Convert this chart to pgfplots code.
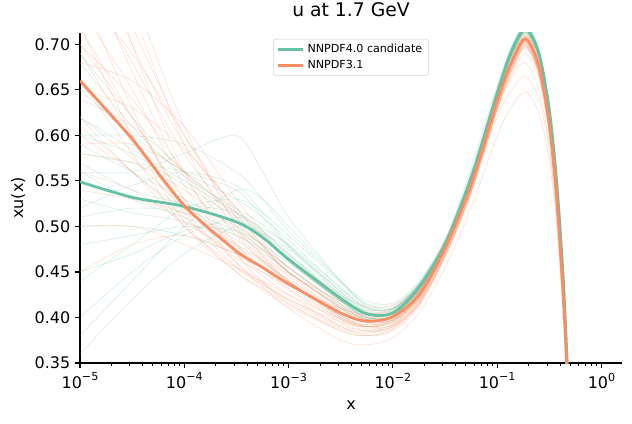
\documentclass[border=0pt]{standalone}
\usepackage{fontspec}
\setmainfont{DejaVu Sans}
\usepackage{pgfplots}
\usepackage{pgfplotstable}
\pgfplotsset{compat=1.18}
\definecolor{cnew}{RGB}{102,194,165}
\definecolor{cold}{RGB}{252,141,98}

% NNPDF3.1: central (c) and replicas
\pgfplotstableread{
x c r1 r2 r3 r4 r5 r6 r7 r8 r9 r10 r11 r12 r13 r14 r15 r16 r17 r18 r19 r20 r21 r22 r23 r24 r25 r26 r27 r28
1e-5     0.660 0.780 0.700 0.620 0.560 0.850 0.690 0.640 0.500 0.740 0.600 0.720 0.580 0.950 0.660 0.700 0.820 0.540 0.760 0.900 0.650 0.610 0.800 0.680 0.450 0.720 0.880 0.590 0.760
3.162e-5 0.596 0.680 0.640 0.575 0.540 0.720 0.600 0.610 0.500 0.650 0.560 0.620 0.570 0.760 0.580 0.620 0.700 0.530 0.630 0.740 0.630 0.560 0.670 0.660 0.480 0.600 0.700 0.590 0.690
1e-4     0.523 0.580 0.560 0.520 0.505 0.600 0.515 0.560 0.480 0.545 0.510 0.530 0.540 0.610 0.500 0.530 0.590 0.515 0.520 0.590 0.585 0.500 0.555 0.610 0.490 0.505 0.560 0.560 0.600
3.162e-4 0.473 0.505 0.490 0.478 0.470 0.510 0.455 0.500 0.455 0.470 0.465 0.480 0.495 0.500 0.450 0.460 0.520 0.485 0.460 0.495 0.520 0.455 0.480 0.530 0.470 0.450 0.470 0.510 0.515
5.623e-4 0.455 0.478 0.463 0.460 0.450 0.478 0.436 0.474 0.440 0.446 0.450 0.463 0.470 0.468 0.432 0.434 0.492 0.462 0.438 0.466 0.485 0.438 0.455 0.495 0.455 0.430 0.440 0.480 0.480
1e-3     0.437 0.455 0.440 0.442 0.430 0.450 0.420 0.450 0.425 0.425 0.435 0.448 0.445 0.440 0.415 0.410 0.465 0.438 0.418 0.440 0.455 0.420 0.432 0.462 0.438 0.412 0.415 0.450 0.448
3.162e-3 0.405 0.415 0.402 0.408 0.395 0.410 0.392 0.412 0.398 0.390 0.410 0.418 0.400 0.400 0.385 0.375 0.425 0.400 0.390 0.402 0.412 0.395 0.398 0.418 0.405 0.386 0.388 0.410 0.405
5.623e-3 0.396 0.402 0.390 0.398 0.385 0.400 0.386 0.402 0.390 0.380 0.404 0.408 0.388 0.390 0.380 0.370 0.412 0.392 0.384 0.392 0.400 0.390 0.390 0.405 0.396 0.380 0.383 0.398 0.394
1e-2     0.401 0.405 0.392 0.402 0.390 0.406 0.393 0.406 0.396 0.385 0.410 0.410 0.392 0.395 0.388 0.378 0.414 0.398 0.390 0.397 0.404 0.397 0.396 0.407 0.400 0.387 0.390 0.402 0.398
1.778e-2 0.425 0.428 0.418 0.427 0.415 0.430 0.420 0.430 0.421 0.412 0.434 0.432 0.418 0.420 0.415 0.405 0.436 0.423 0.416 0.422 0.428 0.423 0.421 0.430 0.424 0.414 0.416 0.426 0.423
3.162e-2 0.476 0.478 0.470 0.478 0.468 0.480 0.473 0.480 0.474 0.466 0.483 0.480 0.471 0.472 0.468 0.455 0.484 0.475 0.469 0.474 0.478 0.475 0.474 0.480 0.476 0.467 0.469 0.477 0.475
5.623e-2 0.546 0.548 0.540 0.547 0.538 0.550 0.543 0.549 0.544 0.536 0.552 0.548 0.541 0.542 0.538 0.520 0.553 0.545 0.539 0.544 0.547 0.545 0.544 0.549 0.546 0.537 0.539 0.546 0.545
0.1      0.638 0.640 0.632 0.640 0.630 0.642 0.635 0.641 0.636 0.628 0.644 0.638 0.633 0.634 0.628 0.600 0.645 0.637 0.631 0.636 0.639 0.630 0.636 0.641 0.638 0.629 0.631 0.638 0.620
0.1349   0.678 0.680 0.672 0.681 0.670 0.682 0.675 0.680 0.676 0.668 0.684 0.676 0.673 0.674 0.662 0.630 0.685 0.677 0.671 0.676 0.679 0.665 0.676 0.681 0.678 0.669 0.671 0.678 0.648
0.1862   0.706 0.708 0.700 0.709 0.698 0.710 0.703 0.707 0.704 0.696 0.712 0.702 0.701 0.702 0.680 0.648 0.713 0.705 0.699 0.704 0.707 0.690 0.704 0.709 0.706 0.697 0.699 0.706 0.665
0.2512   0.676 0.678 0.670 0.679 0.668 0.680 0.673 0.677 0.674 0.666 0.682 0.672 0.671 0.672 0.650 0.625 0.683 0.675 0.669 0.674 0.677 0.662 0.674 0.679 0.676 0.667 0.669 0.676 0.640
0.3162   0.612 0.614 0.606 0.615 0.605 0.616 0.609 0.613 0.610 0.603 0.618 0.608 0.607 0.608 0.590 0.572 0.619 0.611 0.605 0.610 0.613 0.600 0.610 0.615 0.612 0.604 0.605 0.612 0.583
0.3715   0.532 0.534 0.527 0.535 0.526 0.536 0.530 0.533 0.531 0.524 0.538 0.529 0.528 0.529 0.515 0.502 0.539 0.531 0.526 0.531 0.533 0.523 0.531 0.535 0.532 0.525 0.526 0.532 0.510
0.4266   0.430 0.432 0.425 0.433 0.425 0.434 0.428 0.431 0.429 0.423 0.436 0.427 0.426 0.427 0.418 0.408 0.437 0.429 0.424 0.429 0.431 0.423 0.429 0.433 0.430 0.424 0.424 0.430 0.415
0.4677   0.340 0.342 0.336 0.343 0.336 0.344 0.338 0.341 0.339 0.334 0.346 0.338 0.337 0.337 0.330 0.324 0.347 0.339 0.335 0.339 0.341 0.335 0.339 0.343 0.340 0.335 0.335 0.340 0.330
0.5012   0.260 0.262 0.256 0.263 0.256 0.264 0.258 0.261 0.259 0.254 0.266 0.258 0.257 0.257 0.252 0.248 0.267 0.259 0.255 0.259 0.261 0.256 0.259 0.263 0.260 0.255 0.255 0.260 0.252
}\orep

% NNPDF4.0 candidate: central (c) and replicas
\pgfplotstableread{
x c g1 g2 g3 g4 g5 g6 g7 g8 g9 g10 g11 g12 g13 g14 g15 g16 g17 g18 g19 g20 g21 g22
1e-5     0.549 0.620 0.480 0.680 0.360 0.560 0.510 0.590 0.440 0.530 0.650 0.400 0.570 0.600 0.500 0.580 0.450 0.620 0.520 0.690 0.380 0.560 0.600
3.162e-5 0.532 0.585 0.490 0.610 0.420 0.560 0.520 0.560 0.480 0.515 0.600 0.450 0.540 0.600 0.500 0.570 0.470 0.560 0.545 0.620 0.440 0.530 0.580
1e-4     0.522 0.550 0.500 0.555 0.470 0.580 0.515 0.530 0.520 0.505 0.560 0.490 0.525 0.590 0.490 0.560 0.495 0.520 0.560 0.560 0.500 0.510 0.545
3.162e-4 0.505 0.515 0.495 0.520 0.500 0.600 0.490 0.500 0.530 0.480 0.530 0.510 0.515 0.560 0.470 0.540 0.505 0.495 0.545 0.515 0.540 0.490 0.510
5.623e-4 0.488 0.495 0.480 0.502 0.492 0.560 0.472 0.480 0.515 0.462 0.510 0.498 0.495 0.530 0.455 0.510 0.488 0.475 0.515 0.490 0.530 0.475 0.492
1e-3     0.464 0.470 0.460 0.478 0.475 0.510 0.450 0.455 0.490 0.440 0.485 0.480 0.470 0.495 0.435 0.478 0.462 0.450 0.480 0.462 0.500 0.455 0.468
3.162e-3 0.421 0.425 0.418 0.430 0.428 0.440 0.410 0.415 0.438 0.402 0.432 0.433 0.420 0.440 0.398 0.425 0.418 0.412 0.428 0.418 0.440 0.414 0.423
5.623e-3 0.404 0.406 0.400 0.410 0.408 0.412 0.395 0.398 0.415 0.390 0.410 0.411 0.400 0.418 0.386 0.405 0.400 0.398 0.406 0.400 0.414 0.397 0.404
1e-2     0.405 0.408 0.402 0.410 0.408 0.410 0.398 0.400 0.413 0.395 0.409 0.410 0.402 0.416 0.392 0.406 0.402 0.401 0.406 0.402 0.411 0.399 0.405
1.778e-2 0.433 0.436 0.430 0.437 0.434 0.436 0.427 0.430 0.438 0.425 0.435 0.436 0.431 0.440 0.423 0.434 0.431 0.430 0.433 0.431 0.437 0.428 0.432
3.162e-2 0.480 0.483 0.477 0.484 0.481 0.483 0.475 0.478 0.485 0.474 0.482 0.483 0.478 0.486 0.472 0.481 0.478 0.477 0.480 0.479 0.484 0.476 0.480
5.623e-2 0.553 0.556 0.550 0.556 0.554 0.556 0.548 0.552 0.557 0.547 0.565 0.555 0.551 0.558 0.545 0.554 0.551 0.550 0.560 0.552 0.556 0.549 0.553
0.1      0.646 0.649 0.643 0.649 0.647 0.648 0.642 0.645 0.650 0.641 0.655 0.648 0.644 0.651 0.639 0.647 0.644 0.643 0.652 0.645 0.649 0.642 0.646
0.1349   0.690 0.693 0.687 0.692 0.691 0.691 0.686 0.689 0.694 0.685 0.695 0.692 0.688 0.695 0.683 0.691 0.688 0.687 0.693 0.689 0.693 0.686 0.690
0.1862   0.717 0.720 0.714 0.719 0.718 0.717 0.713 0.716 0.721 0.712 0.718 0.719 0.715 0.722 0.710 0.718 0.715 0.714 0.719 0.716 0.720 0.713 0.717
0.2512   0.690 0.693 0.687 0.692 0.691 0.690 0.686 0.689 0.694 0.685 0.690 0.692 0.688 0.695 0.683 0.691 0.688 0.687 0.691 0.689 0.693 0.686 0.690
0.3162   0.628 0.631 0.625 0.630 0.629 0.628 0.624 0.627 0.632 0.623 0.628 0.630 0.626 0.633 0.621 0.629 0.626 0.625 0.629 0.627 0.631 0.624 0.628
0.3715   0.550 0.553 0.547 0.552 0.551 0.550 0.546 0.549 0.554 0.545 0.550 0.552 0.548 0.555 0.543 0.551 0.548 0.547 0.551 0.549 0.553 0.546 0.550
0.4266   0.450 0.453 0.447 0.452 0.451 0.450 0.446 0.449 0.454 0.445 0.450 0.452 0.448 0.455 0.443 0.451 0.448 0.447 0.451 0.449 0.453 0.446 0.450
0.4677   0.355 0.358 0.352 0.357 0.356 0.355 0.352 0.354 0.359 0.351 0.355 0.357 0.353 0.360 0.349 0.356 0.353 0.352 0.356 0.354 0.358 0.351 0.355
0.5012   0.270 0.273 0.267 0.272 0.271 0.270 0.267 0.269 0.274 0.266 0.270 0.272 0.268 0.275 0.264 0.271 0.268 0.267 0.271 0.269 0.273 0.266 0.270
}\nrep

\begin{document}
\begin{tikzpicture}
\useasboundingbox (-57.6pt,-43.2pt) rectangle (397.4pt,261.36pt);
\begin{axis}[
  scale only axis, width=390.2pt, height=237.6pt,
  xmode=log, xmin=1e-5, xmax=1.574, ymin=0.35, ymax=0.7125,
  axis lines=left, axis line style={-, line width=0.8pt},
  tick align=outside, major tick length=3.5pt, minor tick length=2pt,
  every tick/.style={black, line width=0.8pt},
  minor tick style={line width=0.6pt},
  xtick={1e-5,1e-4,1e-3,1e-2,1e-1,1},
  minor xtick={2e-5,3e-5,4e-5,5e-5,6e-5,7e-5,8e-5,9e-5,
    2e-4,3e-4,4e-4,5e-4,6e-4,7e-4,8e-4,9e-4,
    2e-3,3e-3,4e-3,5e-3,6e-3,7e-3,8e-3,9e-3,
    2e-2,3e-2,4e-2,5e-2,6e-2,7e-2,8e-2,9e-2,
    0.2,0.3,0.4,0.5,0.6,0.7,0.8,0.9},
  xticklabels={10\raisebox{0.45em}{\fontsize{8}{8}\selectfont −5},
    10\raisebox{0.45em}{\fontsize{8}{8}\selectfont −4},
    10\raisebox{0.45em}{\fontsize{8}{8}\selectfont −3},
    10\raisebox{0.45em}{\fontsize{8}{8}\selectfont −2},
    10\raisebox{0.45em}{\fontsize{8}{8}\selectfont −1},
    10\raisebox{0.45em}{\fontsize{8}{8}\selectfont 0}},
  ytick={0.35,0.40,0.45,0.50,0.55,0.60,0.65,0.70},
  yticklabel style={/pgf/number format/.cd, fixed, fixed zerofill, precision=2, assume math mode=true},
  tick label style={font=\fontsize{11.5}{13}\selectfont},
  xlabel={x}, ylabel={xu(x)},
  label style={font=\fontsize{11.5}{13}\selectfont},
  xlabel style={at={(axis description cs:0.5,-0.127)}, anchor=center},
  ylabel style={at={(axis description cs:-0.1143,0.5)}, anchor=center},
  title={u at 1.7 GeV},
  title style={at={(axis description cs:0.5,1.0455)}, anchor=center, font=\fontsize{13.5}{15}\selectfont},
  legend style={at={(0.5,0.982)}, anchor=north, font=\fontsize{8}{9.6}\selectfont,
    draw=black!18, rounded corners=1.5pt, fill=white, fill opacity=0.8, text opacity=1,
    inner xsep=2.5pt, inner ysep=1.5pt, row sep=0pt},
  legend cell align=left,
  legend image code/.code={\draw[#1] (0pt,0pt) -- (18pt,0pt);},
]
\pgfplotsinvokeforeach{1,...,22}{
  \addplot[cnew, line width=0.45pt, opacity=0.28, smooth, forget plot] table[x=x, y=g#1]{\nrep};
}
\pgfplotsinvokeforeach{1,...,28}{
  \addplot[cold, line width=0.45pt, opacity=0.28, smooth, forget plot] table[x=x, y=r#1]{\orep};
}
\addplot[cnew, line width=2pt, smooth] table[x=x, y=c]{\nrep};
\addlegendentry{NNPDF4.0 candidate}
\addplot[cold, line width=2pt, smooth] table[x=x, y=c]{\orep};
\addlegendentry{NNPDF3.1}
\end{axis}
\end{tikzpicture}
\end{document}
